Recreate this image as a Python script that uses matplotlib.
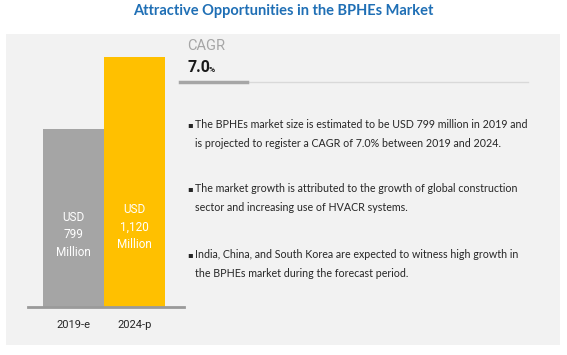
import matplotlib.pyplot as plt
from matplotlib.patches import Rectangle
from matplotlib.lines import Line2D

# Data
years = ["2019-e", "2024-p"]
market_size = [799, 1120]
bar_labels = ["USD\n799\nMillion", "USD\n1,120\nMillion"]
cagr = "7.0"
bullets = [
    "The BPHEs market size is estimated to be USD 799 million in 2019 and\nis projected to register a CAGR of 7.0% between 2019 and 2024.",
    "The market growth is attributed to the growth of global construction\nsector and increasing use of HVACR systems.",
    "India, China, and South Korea are expected to witness high growth in\nthe BPHEs market during the forecast period.",
]

W, H = 567, 355
fig = plt.figure(figsize=(W / 100, H / 100), dpi=100)
fig.patch.set_facecolor("white")
narrow = ["Roboto", "DejaVu Sans"]

def fx(px):
    return px / W

def fy(py):
    return 1 - py / H

# grey panel
fig.patches.append(Rectangle((fx(6), fy(345)), fx(554), 311 / H, transform=fig.transFigure,
                             facecolor="#f2f2f2", edgecolor="none", zorder=-5))

fig.text(fx(283), fy(11), "Attractive Opportunities in the BPHEs Market", ha="center", va="center",
         fontsize=10.5, fontweight="bold", color="#1f6fb5", family=["Lato", "DejaVu Sans"])

# bar chart
ymax = 1200
ax = fig.add_axes([fx(28), fy(307), fx(156), ymax * 0.223 / H])
ax.set_zorder(2)
ax.patch.set_alpha(0)
ax.bar([0, 1], market_size, width=1.0, color=["#a5a5a5", "#ffc000"], zorder=2)
ax.axhline(0, color="#9a9a9a", linewidth=2, zorder=4, clip_on=False)
ax.set_ylim(0, ymax)
ax.set_xlim(-0.75, 1.81)
for s in ["top", "right", "left", "bottom"]:
    ax.spines[s].set_visible(False)
ax.set_yticks([])
ax.set_xticks([0, 1])
ax.set_xticklabels(years, fontsize=8, color="#262626", family=narrow)
ax.tick_params(axis="x", length=0, pad=9)

label_y = [323, 359]
for i, lab in enumerate(bar_labels):
    ax.text(i, label_y[i], lab, ha="center", va="center", color="white", fontsize=8.5,
            linespacing=1.45, family=narrow, zorder=3)

# CAGR block
fig.text(fx(187), fy(46), "CAGR", ha="left", va="center", fontsize=10.5, color="#a6a6a6",
         family=narrow)
fig.text(fx(187), fy(67), cagr, ha="left", va="center", fontsize=11.5, fontweight="bold",
         color="#1a1a1a", family=narrow)
fig.text(fx(209), fy(69), "%", ha="left", va="center", fontsize=6, fontweight="bold",
         color="#1a1a1a", family=narrow)
fig.lines.append(Line2D([fx(180), fx(528)], [fy(82), fy(82)], transform=fig.transFigure,
                        color="#d9d9d9", linewidth=1))
fig.lines.append(Line2D([fx(180), fx(247)], [fy(82), fy(82)], transform=fig.transFigure,
                        color="#a6a6a6", linewidth=2.5))

# bullet points
bullet_y = [134, 198, 264]
for yb, txt in zip(bullet_y, bullets):
    fig.text(fx(187), fy(yb - 9), "\u25aa", ha="left", va="center", fontsize=6, color="#262626")
    fig.text(fx(195), fy(yb), txt, ha="left", va="center", fontsize=7.7, color="#262626",
             linespacing=1.85, family=["Lato", "DejaVu Sans"])

fig.savefig("out.png", dpi=100)
